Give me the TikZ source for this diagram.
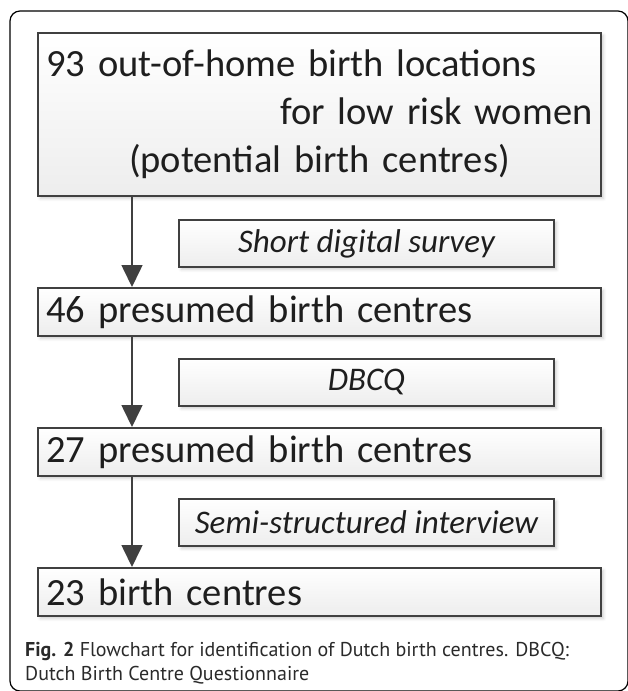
\documentclass[tikz,border=0pt]{standalone}
\usepackage{fontspec}
\setmainfont{Carlito}
\newfontfamily\capfont{PT Sans}
\usetikzlibrary{arrows.meta,shadows.blur}
\definecolor{bordc}{HTML}{404040}
\definecolor{txtc}{HTML}{1E1E1E}
\definecolor{capc}{HTML}{2A2A2A}
\begin{document}
\begin{tikzpicture}[x=1pt,y=-1pt,
  box/.style={draw=bordc, line width=1.9pt, top color=white, bottom color=gray!14,
    blur shadow={shadow xshift=2.5pt,shadow yshift=-2.5pt,shadow blur radius=3pt,shadow opacity=20},
    inner sep=0pt, text=txtc, anchor=north west},
  mainbox/.style={box, minimum width=563pt, minimum height=48pt, text width=546pt, align=left,
    font=\fontsize{38.5}{48}\selectfont},
  subbox/.style={box, minimum width=375pt, minimum height=47pt, font=\itshape\fontsize{33}{36}\selectfont},
  arr/.style={draw=bordc, line width=1.6pt, -{Triangle[width=21pt,length=22pt,fill=bordc]}}
]
\useasboundingbox (0,0) rectangle (627,691);
\draw[line width=1.2pt, rounded corners=10pt] (10,11) rectangle (628,691);

\node[mainbox, minimum height=163pt] (b1) at (37,32)
  {\makebox[546pt][l]{93 out-of-home birth locations}\\
   \makebox[546pt][r]{for low risk women}\\
   \makebox[546pt][c]{(potential birth centres)}};
\node[subbox] (s1) at (178,219) {Short digital survey};
\node[mainbox] (b2) at (37,287) {46 presumed birth centres};
\node[subbox] (s2) at (178,358) {DBCQ};
\node[mainbox] (b3) at (37,427) {27 presumed birth centres};
\node[subbox] (s3) at (178,498) {Semi-structured interview};
\node[mainbox] (b4) at (37,567) {23 birth centres};

\draw[arr] ([xshift=95pt]b1.south west) -- ([xshift=95pt]b2.north west);
\draw[arr] ([xshift=95pt]b2.south west) -- ([xshift=95pt]b3.north west);
\draw[arr] ([xshift=95pt]b3.south west) -- ([xshift=95pt]b4.north west);

\node[anchor=north west, inner sep=0pt, align=left, text=capc,
  font=\capfont\fontsize{20}{24}\selectfont] (cap) at (25,642.5)
  {\textbf{Fig. 2} Flowchart for identification of Dutch birth centres. DBCQ:\\
   Dutch Birth Centre Questionnaire};
\end{tikzpicture}
\end{document}
